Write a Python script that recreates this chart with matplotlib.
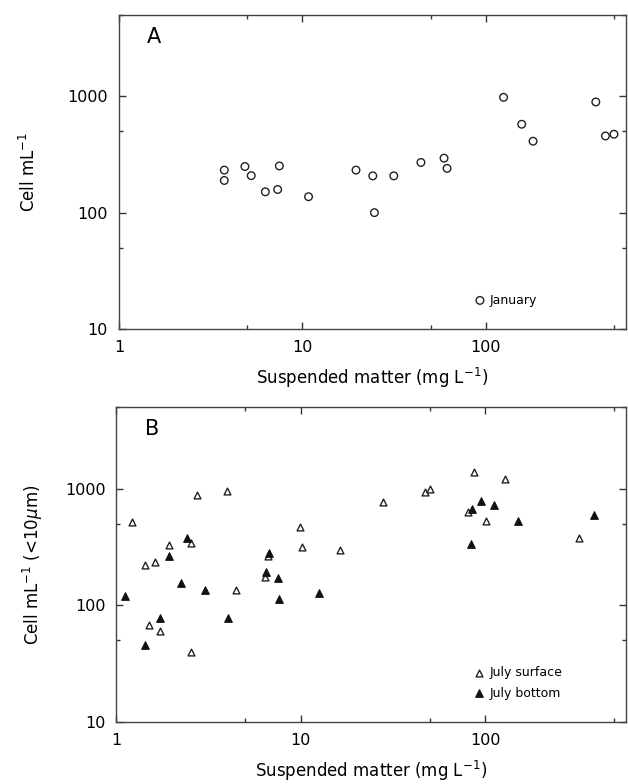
import matplotlib
matplotlib.use('Agg')
import matplotlib.pyplot as plt
from matplotlib.ticker import LogLocator, FixedLocator, NullFormatter

# panel A: January
jan_sm = [3.75, 3.75, 4.86, 5.26, 6.28, 7.33, 7.49, 10.8, 19.6, 24.2, 24.7,
          31.5, 44.3, 59.2, 61.5, 125, 157, 181, 398, 449, 500]
jan_cell = [232, 189, 249, 208, 151, 158, 252, 137, 232, 207, 100,
            207, 270, 294, 240, 980, 575, 411, 894, 456, 472]

# panel B: July surface / bottom
surf_sm = [1.22, 1.42, 1.62, 1.51, 1.72, 1.93, 2.54, 2.53, 2.75, 3.99, 4.46,
           6.39, 6.62, 9.85, 10.1, 16.4, 27.8, 47.1, 50.1, 86.9, 129, 80.6,
           101, 322]
surf_cell = [516, 220, 237, 67.7, 60.5, 327, 341, 39.4, 881, 961, 134,
             175, 264, 468, 315, 299, 763, 942, 986, 1380, 1202, 634,
             527, 379]
bot_sm = [1.11, 1.42, 1.73, 1.93, 2.23, 2.42, 3.03, 4.05, 6.49, 6.72, 7.52,
          7.64, 12.5, 84.1, 85.2, 94.6, 112, 150, 390]
bot_cell = [119, 46.1, 77.2, 262, 154, 374, 134, 77.2, 194, 282, 172,
            113, 128, 332, 664, 782, 718, 527, 598]

xticks = [1, 10, 100]
yticks = [10, 100, 1000]

plt.rcParams['font.family'] = ['DejaVu Sans']

fig = plt.figure(figsize=(6.28, 7.84), dpi=100)
axA = fig.add_axes([0.1895, 0.5804, 0.807, 0.4005])
axB = fig.add_axes([0.1855, 0.0791, 0.811, 0.4018])


def style(ax):
    ax.set_xscale('log')
    ax.set_yscale('log')
    ax.set_xlim(1, 580)
    ax.set_ylim(10, 5000)
    ax.xaxis.set_major_locator(FixedLocator(xticks))
    ax.yaxis.set_major_locator(FixedLocator(yticks))
    ax.set_xticklabels([str(t) for t in xticks])
    ax.set_yticklabels([str(t) for t in yticks])
    ax.xaxis.set_minor_locator(LogLocator(base=10, subs=[5]))
    ax.yaxis.set_minor_locator(LogLocator(base=10, subs=[5]))
    ax.xaxis.set_minor_formatter(NullFormatter())
    ax.yaxis.set_minor_formatter(NullFormatter())
    ax.tick_params(which='both', direction='in', top=True, right=True,
                   labelsize=11.5, color='#333333')
    ax.tick_params(which='major', length=5, width=1, pad=8)
    ax.tick_params(which='minor', length=3, width=1)
    for s in ax.spines.values():
        s.set_color('#444444')
        s.set_linewidth(1.0)
    ax.set_xlabel('Suspended matter (mg L$^{-1}$)', fontsize=12, labelpad=8)


style(axA)
axA.scatter(jan_sm, jan_cell, s=30, marker='o', facecolors='none',
            edgecolors='#222222', linewidths=1.0, label='January')
axA.set_ylabel('Cell mL$^{-1}$', fontsize=12, labelpad=20)
axA.text(0.055, 0.91, 'A', transform=axA.transAxes, fontsize=15)
axA.legend(loc='lower left', bbox_to_anchor=(0.69, 0.055), frameon=False,
           fontsize=9, handletextpad=0.3, borderaxespad=0, handlelength=1)

style(axB)
axB.scatter(surf_sm, surf_cell, s=24, marker='^', facecolors='white',
            edgecolors='#222222', linewidths=1.0, label='July surface', zorder=3)
axB.scatter(bot_sm, bot_cell, s=30, marker='^', facecolors='#111111',
            edgecolors='#111111', linewidths=0.8, label='July bottom', zorder=3)
axB.set_ylabel('Cell mL$^{-1}$ (<10$\\mu$m)', fontsize=12, labelpad=14)
axB.text(0.055, 0.91, 'B', transform=axB.transAxes, fontsize=15)
axB.legend(loc='lower left', bbox_to_anchor=(0.69, 0.055), frameon=False,
           fontsize=9, handletextpad=0.3, borderaxespad=0, handlelength=1,
           labelspacing=0.6)

fig.savefig('out.png', dpi=100)
